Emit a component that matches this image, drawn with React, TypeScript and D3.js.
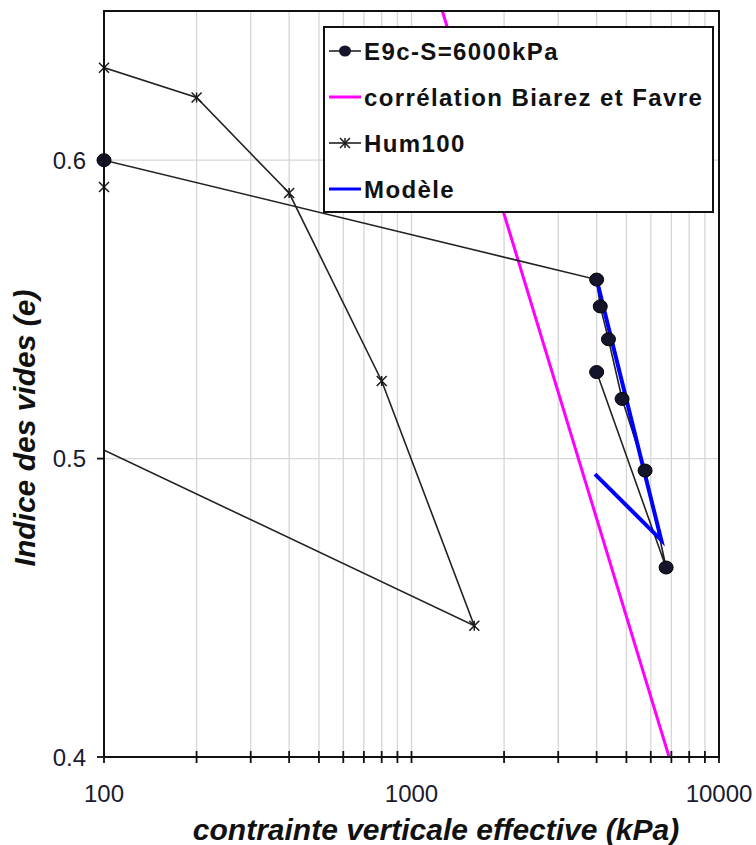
import React from "react";
import * as d3 from "d3";

const W = 756;
const H = 845;
const M = { left: 104, right: 37, top: 11, bottom: 88 };

// E9c-S=6000kPa oedometer path (stress in kPa, void ratio)
const e9cStress = [100, 4000, 4110, 4370, 4840, 5750, 6730, 4000];
const e9cVoid = [0.6, 0.56, 0.551, 0.54, 0.52, 0.496, 0.4635, 0.529];

// Hum100 path
const humStress = [100, 100, 200, 400, 800, 1600, 80];
const humVoid = [0.591, 0.631, 0.621, 0.589, 0.526, 0.444, 0.5076];

// Biarez & Favre correlation line
const corrStress = [1000, 10000];
const corrVoid = [0.684, 0.345];

// Model path
const modelStress = [4000, 6490, 3950];
const modelVoid = [0.56, 0.4727, 0.4948];

const xMajorTicks = [100, 1000, 10000];
const xMinorTicks = [200, 300, 400, 500, 600, 700, 800, 900, 2000, 3000, 4000, 5000, 6000, 7000, 8000, 9000];
const yTicks = [0.4, 0.5, 0.6];
const yGrid = [0.5, 0.6];

const legendLabels = ["E9c-S=6000kPa", "corrélation Biarez et Favre", "Hum100", "Modèle"];

const FONT = "'Liberation Sans', Arial, sans-serif";
const TICK_COLOR = "#1a1a2e";

type Pt = [number, number];

function zip(xs: number[], ys: number[]): Pt[] {
  return xs.map((x, i) => [x, ys[i]] as Pt);
}

function Star({ x, y, s = 5 }: { x: number; y: number; s?: number }) {
  return (
    <g stroke="#1a1a1a" strokeWidth={1.5}>
      <line x1={x - s} y1={y - s} x2={x + s} y2={y + s} />
      <line x1={x - s} y1={y + s} x2={x + s} y2={y - s} />
      <line x1={x} y1={y - s} x2={x} y2={y + s} />
    </g>
  );
}

export default function App() {
  const x = d3.scaleLog().domain([100, 10000]).range([M.left, W - M.right]);
  const y = d3.scaleLinear().domain([0.4, 0.65]).range([H - M.bottom, M.top]);
  const line = d3
    .line<Pt>()
    .x((d) => x(d[0]))
    .y((d) => y(d[1]));

  const e9c = zip(e9cStress, e9cVoid);
  const hum = zip(humStress, humVoid);
  const corr = zip(corrStress, corrVoid);
  const model = zip(modelStress, modelVoid);

  const x0 = M.left;
  const x1 = W - M.right;
  const y0 = H - M.bottom;
  const y1 = M.top;
  const inside = (d: Pt) => d[0] >= 100 && d[0] <= 10000;

  // legend geometry
  const lgX = 324;
  const lgY = 27;
  const lgW = 389;
  const lgH = 185;
  const rowY = (i: number) => 51 + i * 46;

  return (
    <svg
      width={W}
      height={H}
      style={{ position: "fixed", left: 0, top: 0, background: "#fff" }}
      fontFamily={FONT}
    >
      <defs>
        <clipPath id="plot-clip">
          <rect x={x0} y={y1} width={x1 - x0} height={y0 - y1} />
        </clipPath>
      </defs>
      <rect width={W} height={H} fill="#fff" />

      {/* grid */}
      <g stroke="#d6d6d6" strokeWidth={1.3}>
        {[...xMinorTicks, 1000].map((t) => (
          <line key={"gx" + t} x1={x(t)} x2={x(t)} y1={y1} y2={y0} />
        ))}
        {yGrid.map((t) => (
          <line key={"gy" + t} x1={x0} x2={x1} y1={y(t)} y2={y(t)} />
        ))}
      </g>

      {/* series lines */}
      <g clipPath="url(#plot-clip)" fill="none">
        <path d={line(corr) || ""} stroke="#ff00ff" strokeWidth={3} />
        <path d={line(hum) || ""} stroke="#222" strokeWidth={1.6} />
        <path d={line(e9c) || ""} stroke="#222" strokeWidth={1.6} />
        <path d={line(model) || ""} stroke="#0000ff" strokeWidth={4} strokeLinejoin="miter" />
      </g>

      {/* markers */}
      {e9c.filter(inside).map((d, i) => (
        <ellipse key={"c" + i} cx={x(d[0])} cy={y(d[1])} rx={7} ry={6.5} fill="#14142a" stroke="#000" strokeWidth={1} />
      ))}
      {hum.filter(inside).map((d, i) => (
        <Star key={"s" + i} x={x(d[0])} y={y(d[1])} />
      ))}

      {/* frame */}
      <rect x={x0} y={y1} width={x1 - x0} height={y0 - y1} fill="none" stroke="#111" strokeWidth={2} />

      {/* axis ticks */}
      <g stroke="#111" strokeWidth={1.8}>
        {[...xMajorTicks, ...xMinorTicks].map((t) => (
          <line key={"tx" + t} x1={x(t)} x2={x(t)} y1={y0 - 6} y2={y0 + 6} />
        ))}
        {yTicks.map((t) => (
          <line key={"ty" + t} x1={x0 - 7} x2={x0} y1={y(t)} y2={y(t)} />
        ))}
      </g>

      {/* tick labels */}
      <g fontSize={24} fill={TICK_COLOR}>
        {xMajorTicks.map((t) => (
          <text key={"lx" + t} x={x(t)} y={802} textAnchor="middle">
            {d3.format("d")(t)}
          </text>
        ))}
        {yTicks.map((t) => (
          <text key={"ly" + t} x={86} y={y(t)} dy="0.36em" textAnchor="end">
            {d3.format(".1f")(t)}
          </text>
        ))}
      </g>

      {/* axis titles */}
      <text
        x={436}
        y={840}
        textAnchor="middle"
        fontSize={30}
        fontWeight="bold"
        fontStyle="italic"
        fill="#111"
      >
        contrainte verticale effective (kPa)
      </text>
      <text
        transform={`translate(35, 428) rotate(-90)`}
        textAnchor="middle"
        fontSize={30}
        fontWeight="bold"
        fontStyle="italic"
        fill="#111"
      >
        Indice des vides (e)
      </text>

      {/* legend */}
      <rect x={lgX} y={lgY} width={lgW} height={lgH} fill="#fff" stroke="#111" strokeWidth={2} />
      {legendLabels.map((label, i) => {
        const cy = rowY(i);
        const lx0 = 329;
        const lx1 = 361;
        const mid = (lx0 + lx1) / 2;
        let sample: React.ReactNode = null;
        if (i === 0) {
          sample = (
            <g>
              <line x1={lx0} x2={lx1} y1={cy} y2={cy} stroke="#222" strokeWidth={1.6} />
              <ellipse cx={mid} cy={cy} rx={6} ry={5.5} fill="#14142a" />
            </g>
          );
        } else if (i === 1) {
          sample = <line x1={lx0} x2={lx1} y1={cy} y2={cy} stroke="#ff00ff" strokeWidth={3} />;
        } else if (i === 2) {
          sample = (
            <g>
              <line x1={lx0} x2={lx1} y1={cy} y2={cy} stroke="#222" strokeWidth={1.6} />
              <Star x={mid} y={cy} />
            </g>
          );
        } else {
          sample = <line x1={lx0} x2={lx1} y1={cy} y2={cy} stroke="#0000ff" strokeWidth={3} />;
        }
        return (
          <g key={label}>
            {sample}
            <text
              x={364}
              y={cy + 9}
              fontSize={24}
              fontWeight="bold"
              letterSpacing={1.4}
              fill="#111"
            >
              {label}
            </text>
          </g>
        );
      })}
    </svg>
  );
}
